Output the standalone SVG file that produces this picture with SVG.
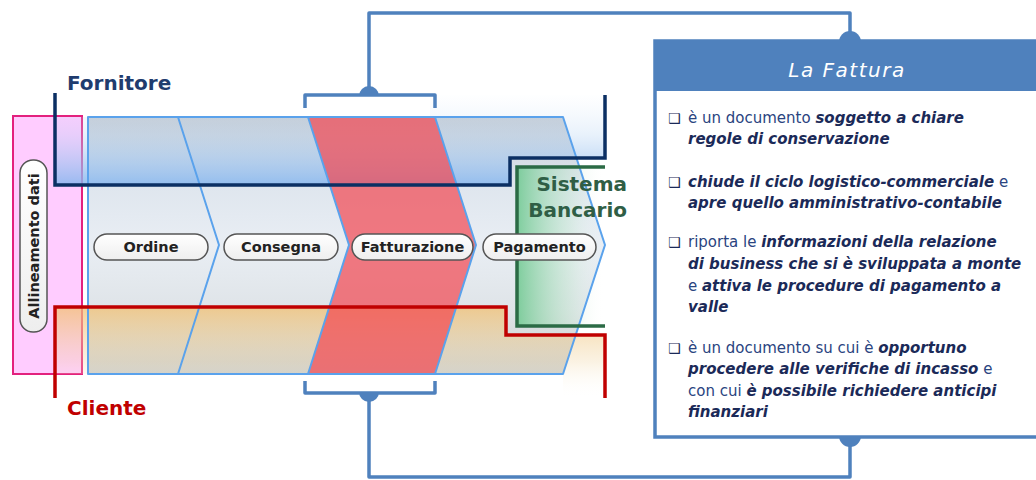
<svg xmlns="http://www.w3.org/2000/svg" width="1036" height="480" viewBox="0 0 1036 480">
<defs>
<style>
.lbl{font-family:"DejaVu Sans",Verdana,sans-serif;font-weight:bold;font-size:14.5px;fill:#222;text-anchor:middle}
.pill{fill:url(#pillG);stroke:#555;stroke-width:1.5}
.div{fill:none;stroke:#5aa2ec;stroke-width:2;stroke-linejoin:round}
.conn{fill:none;stroke:#4f81bd;stroke-width:3.5;stroke-linejoin:round}
.bump{fill:#4f81bd}
.body{font-family:"DejaVu Sans",Verdana,sans-serif;font-size:15px;fill:#2a4480}
.bi{font-weight:bold;font-style:italic;fill:#1b2a58}
.bul{font-family:"DejaVu Sans",sans-serif;font-size:14px;fill:#1b2a58}
.big{font-family:"DejaVu Sans",Verdana,sans-serif;font-weight:bold;font-size:20px}
</style>
<linearGradient id="bandG" gradientUnits="userSpaceOnUse" x1="0" y1="117" x2="0" y2="374">
<stop offset="0" stop-color="#c6cdd5"/><stop offset="0.27" stop-color="#dfe6ee"/><stop offset="0.5" stop-color="#e9eef4"/><stop offset="0.75" stop-color="#dfe4e8"/><stop offset="1" stop-color="#cdcfcc"/>
</linearGradient>
<linearGradient id="blueG" gradientUnits="userSpaceOnUse" x1="0" y1="93" x2="0" y2="185">
<stop offset="0" stop-color="#cfe3f8" stop-opacity="0"/><stop offset="0.45" stop-color="#b4d2f2" stop-opacity="0.3"/><stop offset="1" stop-color="#86b6ee" stop-opacity="0.85"/>
</linearGradient>
<linearGradient id="orG" gradientUnits="userSpaceOnUse" x1="0" y1="307" x2="0" y2="398">
<stop offset="0" stop-color="#f2c070" stop-opacity="0.75"/><stop offset="0.6" stop-color="#f0d4a0" stop-opacity="0.3"/><stop offset="1" stop-color="#ffffff" stop-opacity="0"/>
</linearGradient>
<linearGradient id="grG" gradientUnits="userSpaceOnUse" x1="517" y1="0" x2="605" y2="0">
<stop offset="0" stop-color="#6cc88e" stop-opacity="0.85"/><stop offset="0.6" stop-color="#bfe6cc" stop-opacity="0.4"/><stop offset="1" stop-color="#ffffff" stop-opacity="0"/>
</linearGradient>
<linearGradient id="pillG" x1="0" y1="0" x2="0" y2="1">
<stop offset="0" stop-color="#ffffff"/><stop offset="1" stop-color="#eeeeee"/>
</linearGradient>
</defs>
<rect width="1036" height="480" fill="#ffffff"/>

<g id="allineamento">
<rect x="13" y="116" width="69" height="258" fill="#ffccff" stroke="#e3217e" stroke-width="2"/>
</g>

<g id="band">
<polygon points="88,117 563,117 605,245 563,374 88,374" fill="url(#bandG)"/>
<polygon points="55,117 430,117 430,95 605,95 605,158 510,158 510,185 55,185" fill="url(#blueG)"/>
<polygon points="55,307 506,307 506,335 605,335 605,398 563,398 563,374 55,374" fill="url(#orG)"/>
<rect x="517" y="167" width="88" height="159" fill="url(#grG)"/>
<polygon id="fatturazione-chevron" points="308,117 435,117 476,245 435,374 308,374 349,245" fill="#f24650" fill-opacity="0.7"/>
<polygon class="div" points="88,117 563,117 605,245 563,374 88,374"/>
<polyline class="div" points="178,117 219,245 178,374"/>
<polyline class="div" points="308,117 349,245 308,374"/>
<polyline class="div" points="435,117 476,245 435,374"/>
</g>

<g id="fornitore">
<polyline points="55,93 55,185 510,185 510,158 605,158 605,95" fill="none" stroke="#0b2f63" stroke-width="3.5"/>
<text class="big" x="67" y="90" fill="#1f3c6e">Fornitore</text>
</g>
<g id="cliente">
<polyline points="55,398 55,307 506,307 506,335 605,335 605,398" fill="none" stroke="#c00000" stroke-width="3.5"/>
<text class="big" x="67" y="415" fill="#c00000">Cliente</text>
</g>
<g id="sistema-bancario">
<polyline points="605,167 517,167 517,326 605,326" fill="none" stroke="#2b6b45" stroke-width="3.5"/>
<text class="big" x="627" y="191" text-anchor="end" fill="#2f5e45">Sistema</text>
<text class="big" x="627" y="217" text-anchor="end" fill="#2f5e45">Bancario</text>
</g>

<g id="pill-allineamento">
<rect class="pill" x="20" y="160" width="27" height="172" rx="13"/>
<text class="lbl" transform="translate(34,246) rotate(-90)" x="0" y="5">Allineamento dati</text>
</g>
<g id="ordine">
<rect class="pill" x="94" y="234" width="114" height="26" rx="13"/>
<text class="lbl" x="151" y="252">Ordine</text>
</g>
<g id="consegna">
<rect class="pill" x="224" y="234" width="114" height="26" rx="13"/>
<text class="lbl" x="281" y="252">Consegna</text>
</g>
<g id="fatturazione">
<rect class="pill" x="352" y="234" width="121" height="26" rx="13" stroke="#222" stroke-width="2"/>
<text class="lbl" x="412.5" y="252">Fatturazione</text>
</g>
<g id="pagamento">
<rect class="pill" x="483" y="234" width="113" height="26" rx="13"/>
<text class="lbl" x="539.5" y="252">Pagamento</text>
</g>

<g id="connectors">
<path class="conn" d="M305,108 V95 H435 V108"/>
<path class="conn" d="M305,381 V393 H435 V381"/>
<path class="conn" d="M369,90 V13 H850 V41"/>
<path class="conn" d="M369,398 V477 H850 V437"/>
<path class="bump" d="M359,96 A10,10 0 0 1 379,96 Z"/>
<path class="bump" d="M359,392 A10,10 0 0 0 379,392 Z"/>
<path class="bump" d="M839,42 A11,11 0 0 1 861,42 Z"/>
<path class="bump" d="M839,436 A11,11 0 0 0 861,436 Z"/>
</g>

<g id="la-fattura">
<rect x="655" y="41" width="400" height="396" fill="#ffffff" stroke="#4f81bd" stroke-width="3.5"/>
<rect x="655" y="41" width="400" height="50" fill="#4f81bd"/>
<text x="847" y="77" text-anchor="middle" font-family="'DejaVu Sans',Verdana,sans-serif" font-style="italic" font-size="20" letter-spacing="1.5" fill="#ffffff">La Fattura</text>
<text class="bul" x="668" y="123">❑</text>
<text class="body" x="688" y="123">è un documento <tspan class="bi">soggetto a chiare</tspan></text>
<text class="body bi" x="688" y="144">regole di conservazione</text>
<text class="bul" x="668" y="187">❑</text>
<text class="body" x="688" y="187"><tspan class="bi">chiude il ciclo logistico-commerciale</tspan> e</text>
<text class="body bi" x="688" y="208">apre quello amministrativo-contabile</text>
<text class="bul" x="668" y="247">❑</text>
<text class="body" x="688" y="247">riporta le <tspan class="bi">informazioni della relazione</tspan></text>
<text class="body bi" x="688" y="269">di business che si è sviluppata a monte</text>
<text class="body" x="688" y="291">e <tspan class="bi">attiva le procedure di pagamento a</tspan></text>
<text class="body bi" x="688" y="312">valle</text>
<text class="bul" x="668" y="353">❑</text>
<text class="body" x="688" y="353">è un documento su cui è <tspan class="bi">opportuno</tspan></text>
<text class="body" x="688" y="374"><tspan class="bi">procedere alle verifiche di incasso</tspan> e</text>
<text class="body" x="688" y="396">con cui <tspan class="bi">è possibile richiedere anticipi</tspan></text>
<text class="body bi" x="688" y="417">finanziari</text>
</g>
</svg>
